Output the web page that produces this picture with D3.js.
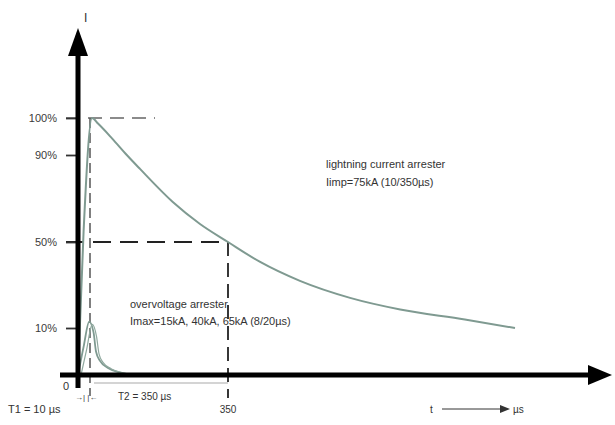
<!DOCTYPE html>
<html><head><meta charset="utf-8">
<script src="https://cdn.jsdelivr.net/npm/d3@7"></script>
<style>body{margin:0;background:#fff}svg{display:block}text{font-family:"Liberation Sans",Arial,sans-serif;fill:#333}</style>
</head><body>
<script>
// ---- data ----
const timeBreaks = [0, 10, 350, 1100];          // µs (schematic, non-linear time axis)
const levelBreaks = [0, 10, 50, 90, 100];        // % (schematic current axis)
const yTickValues = [10, 50, 90, 100];
const yTickLabels = ["10%", "50%", "90%", "100%"];
// 10/350 µs lightning impulse (time µs, current %)
const wave350T = [0, 4, 10, 25, 60, 97, 130, 212, 280, 350, 434, 538, 669, 800, 969, 1100];
const wave350V = [0, 55, 100, 98.5, 94.5, 90, 83.6, 68.4, 58.3, 50, 40.7, 31.9, 24, 18.6, 14, 10];
// 8/20 µs surge (time µs, current %)
const wave20T = [0, 4, 8, 14, 20, 30, 50, 80, 120];
const wave20V = [0, 6, 13, 9, 5, 3, 1.5, 0.5, 0];

const W = 615, H = 425;
const svg = d3.select("body").append("svg").attr("width", W).attr("height", H);
const x = d3.scaleLinear().domain(timeBreaks).range([78, 92, 228, 515]);
const y = d3.scaleLinear().domain(levelBreaks).range([375, 328, 242, 155, 118]);

// reference dashed lines
const dash = svg.append("g").attr("stroke", "#222").attr("fill", "none");
dash.append("line").attr("x1", 66).attr("x2", 155).attr("y1", y(100)).attr("y2", y(100))
  .attr("stroke", "#666").attr("stroke-width", 1.5).attr("stroke-dasharray", "14,8");
dash.append("line").attr("x1", 66).attr("x2", x(350)).attr("y1", y(50)).attr("y2", y(50))
  .attr("stroke-width", 1.8).attr("stroke-dasharray", "18,9");
dash.append("line").attr("x1", x(350)).attr("x2", x(350)).attr("y1", y(50)).attr("y2", 398)
  .attr("stroke-width", 1.8).attr("stroke-dasharray", "14,7");
dash.append("line").attr("x1", x(10) - 2).attr("x2", x(10) - 2).attr("y1", y(100)).attr("y2", 396)
  .attr("stroke", "#555").attr("stroke-width", 1.5).attr("stroke-dasharray", "10,5");
// T2 dimension line
svg.append("line").attr("x1", x(10) + 2).attr("x2", x(350)).attr("y1", 383).attr("y2", 383)
  .attr("stroke", "#aaa").attr("stroke-width", 1.2);

// curves
const line = d3.line().x(d => x(d[0])).y(d => y(d[1])).curve(d3.curveMonotoneX);
svg.append("path").datum(d3.zip(wave350T, wave350V)).attr("d", line)
  .attr("fill", "none").attr("stroke", "#7f9a91").attr("stroke-width", 2);
svg.append("path").datum(d3.zip(wave20T, wave20V)).attr("d", line)
  .attr("fill", "none").attr("stroke", "#7f9a91").attr("stroke-width", 1.8);
svg.append("path").datum(d3.zip(wave20T, wave20V.map(v => v * 0.9))).attr("d", line)
  .attr("fill", "none").attr("stroke", "#8fa89e").attr("stroke-width", 1.2)
  .attr("transform", "translate(3,0)");

// y axis ticks
const yAxis = d3.axisLeft(y).tickValues(yTickValues).tickSize(12).tickPadding(9)
  .tickFormat((d, i) => yTickLabels[i]);
const gy = svg.append("g").attr("transform", `translate(${x(0)},0)`).call(yAxis);
gy.select(".domain").remove();
gy.selectAll(".tick line").attr("stroke", "#333").attr("stroke-width", 1.8);
gy.selectAll(".tick text").attr("font-size", 11).attr("fill", null).style("fill", "#3a3a3a")
  .style("font-family", "Liberation Sans, Arial, sans-serif");

// main axes with arrows
svg.append("line").attr("x1", x(0)).attr("x2", x(0)).attr("y1", 388).attr("y2", 52)
  .attr("stroke", "#000").attr("stroke-width", 5);
svg.append("path").attr("d", `M${x(0)},28 L${x(0) - 10},56 L${x(0) + 10},56 Z`).attr("fill", "#000");
svg.append("line").attr("x1", 60).attr("x2", 592).attr("y1", y(0)).attr("y2", y(0))
  .attr("stroke", "#000").attr("stroke-width", 5);
svg.append("path").attr("d", `M612,${y(0)} L588,${y(0) - 10} L588,${y(0) + 10} Z`).attr("fill", "#000");

// texts
const t = (tx, ty, s, fs = 11, anchor = "start") =>
  svg.append("text").attr("x", tx).attr("y", ty).attr("font-size", fs).attr("text-anchor", anchor).text(s);
t(84, 22, "I", 12);
t(326, 168, "lightning current arrester");
t(326, 186, "Iimp=75kA (10/350µs)");
t(130, 308, "overvoltage arrester");
t(130, 325, "Imax=15kA, 40kA, 65kA (8/20µs)");
t(66, 390, "0", 11, "middle");
t(8, 413, "T1 = 10 µs", 11);
t(75, 400, "→| |←", 8);
t(118, 400, "T2 = 350 µs", 10);
t(x(350), 413, "350", 10, "middle");
t(430, 413, "t", 10);
svg.append("line").attr("x1", 442).attr("x2", 502).attr("y1", 409).attr("y2", 409).attr("stroke", "#333");
svg.append("path").attr("d", "M510,409 L500,405 L500,413 Z").attr("fill", "#333");
t(513, 413, "µs", 10);
</script>
</body></html>
